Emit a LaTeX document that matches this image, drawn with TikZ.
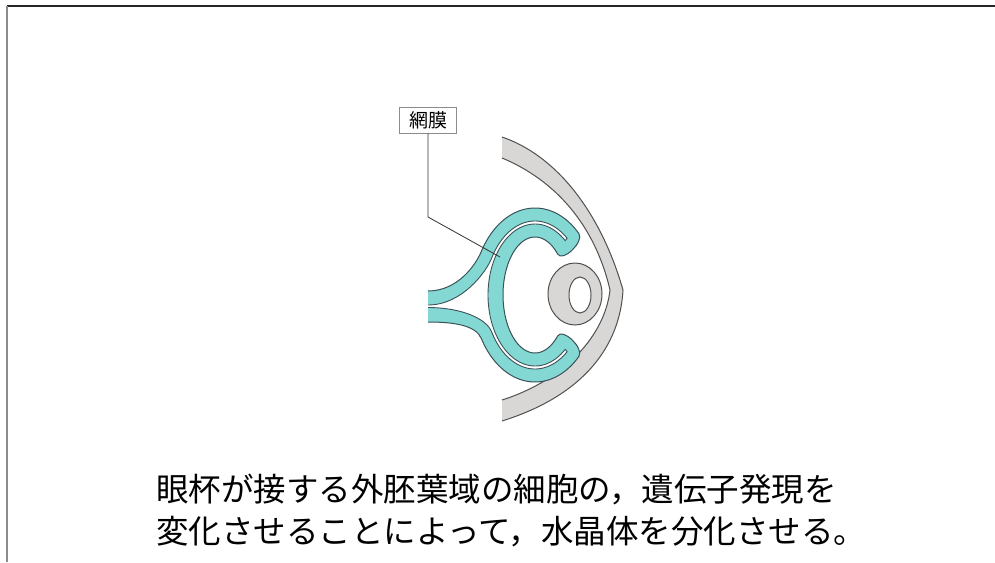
\documentclass[tikz,border=0pt]{standalone}
\usepackage{xcolor}
\usepackage{fontspec}
\newfontfamily\jpfont{Noto Sans CJK JP}

\definecolor{cupfill}{RGB}{132,216,212}
\definecolor{cupline}{RGB}{58,82,88}
\definecolor{skinfill}{RGB}{217,215,213}
\definecolor{skinline}{RGB}{80,80,80}

\tikzset{cup/.style   = {fill=cupfill, draw=cupline, line width=1pt},
         lumen/.style = {fill=white, draw=cupline, line width=0.9pt},
         skin/.style  = {draw=skinline, line width=1pt},
         tag/.style   = {draw=black!45, fill=white, line width=0.7pt,
                         font=\jpfont\fontsize{19}{19}\selectfont,
                         minimum width=57pt, minimum height=26pt, inner sep=1pt},
         caption/.style = {font=\jpfont\fontsize{32.5}{40}\selectfont,
                           inner sep=0pt, anchor=base west}}

\begin{document}
\begin{tikzpicture}[x=1pt, y=-1pt]
  \useasboundingbox (0,0) rectangle (995,562);
  % frame
  \draw[black!85, line width=1.3pt] (7,6) -- (995,6);
  \draw[black!45, line width=2pt] (6.5,5.5) -- (6.5,562);

  % surface ectoderm
  \fill[skinfill] (502,137) .. controls (555,155) and (600,210) .. (623,290)
        .. controls (620,345) and (585,395) .. (502,421)
        -- (502,400) .. controls (565,380) and (605,335) .. (610,290)
        .. controls (595,225) and (555,180) .. (502,158) -- cycle;
  \draw[skin] (502,137) .. controls (555,155) and (600,210) .. (623,290)
        .. controls (620,345) and (585,395) .. (502,421);
  \draw[skin] (502,158) .. controls (555,180) and (595,225) .. (610,290)
        .. controls (605,335) and (565,380) .. (502,400);

  % optic cup and stalk
  \filldraw[cup] (428,291) .. controls (458,291) and (476,264.4) .. (481.3,251.5)
        -- plot[domain=-150:-45, samples=40] ({535+62*cos(\x)}, {295+87*sin(\x)})
        .. controls (584.6,241.6) and (562.4,262.8) .. (557.6,254)
        -- plot[domain=45:315, samples=80] ({535+32*cos(\x)}, {295-58*sin(\x)})
        .. controls (562.4,327.2) and (584.6,348.4) .. (578.8,356.5)
        -- plot[domain=45:150, samples=40] ({535+62*cos(\x)}, {295+87*sin(\x)})
        .. controls (476,325.6) and (455,322) .. (428,322);
  % lumen
  \filldraw[lumen] (428,305) .. controls (462,305) and (486.2,272) .. (491.7,258)
        -- plot[domain=-150:-50, samples=40] ({535+50*cos(\x)}, {295+74*sin(\x)})
        -- plot[domain=50:310, samples=80] ({535+47*cos(\x)}, {295-71*sin(\x)})
        -- plot[domain=50:150, samples=40] ({535+50*cos(\x)}, {295+74*sin(\x)})
        .. controls (486.3,318) and (460,307.5) .. (428,307.5);

  % lens
  \filldraw[skin, fill=skinfill] (575,294) ellipse [x radius=27pt, y radius=31pt];
  \filldraw[skin, fill=white] (580,295) ellipse [x radius=11pt, y radius=18pt];

  % label
  \node[tag] (retina) at (428,120) {網膜};
  \coordinate (kink) at (428,217);
  \coordinate (retinaend) at (500,257);
  \draw[black!80, line width=0.8pt] (retina) -- (kink) -- (retinaend);

  \node[caption] (line1) at (156,501) {眼杯が接する外胚葉域の細胞の，遺伝子発現を};
  \node[caption] (line2) at (156,543) {変化させることによって，水晶体を分化させる。};
\end{tikzpicture}
\end{document}
